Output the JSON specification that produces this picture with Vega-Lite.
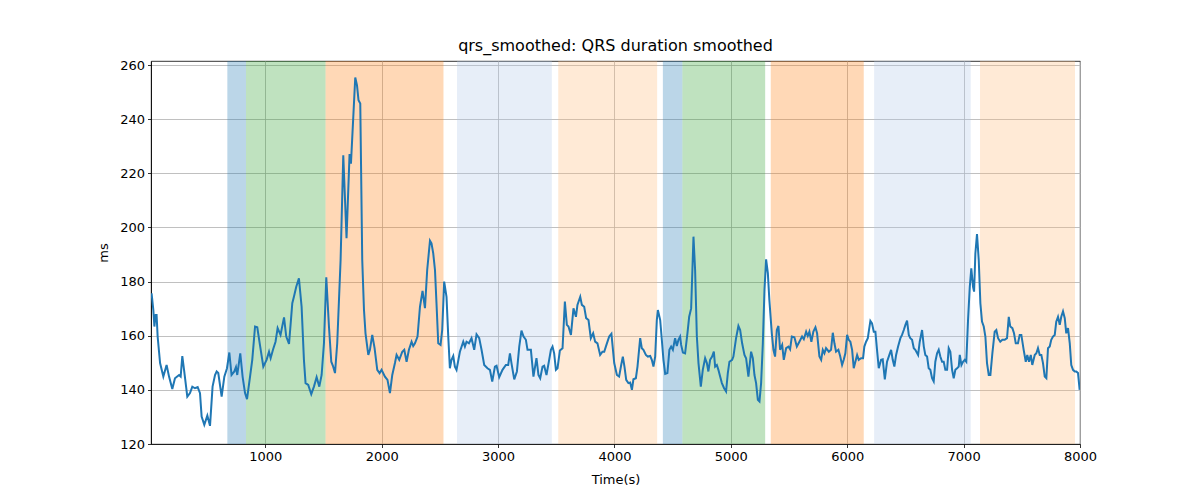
{
  "$schema": "https://vega.github.io/schema/vega-lite/v6.json",
  "width": 929,
  "height": 383,
  "autosize": {"type": "none"},
  "padding": {"left": 151, "top": 61, "right": 120, "bottom": 56},
  "title": {"text": "qrs_smoothed: QRS duration smoothed", "offset": 5},
  "datasets": {
    "bands": [
      {"start": 674, "end": 834, "kind": "blue"},
      {"start": 834, "end": 1518, "kind": "green"},
      {"start": 1518, "end": 2531, "kind": "orange"},
      {"start": 2647, "end": 3462, "kind": "lightblue"},
      {"start": 3517, "end": 4367, "kind": "lightorange"},
      {"start": 4416, "end": 4584, "kind": "blue"},
      {"start": 4584, "end": 5295, "kind": "green"},
      {"start": 5343, "end": 6142, "kind": "orange"},
      {"start": 6231, "end": 7061, "kind": "lightblue"},
      {"start": 7141, "end": 7957, "kind": "lightorange"}
    ],
    "series": [
      {"t": 23, "v": 175.7}, {"t": 38, "v": 169.5}, {"t": 47, "v": 163.4}, {"t": 58, "v": 167.7}, {"t": 66, "v": 167.7},
      {"t": 75, "v": 159.7}, {"t": 96, "v": 149.9}, {"t": 124, "v": 144.9}, {"t": 152, "v": 149.2}, {"t": 173, "v": 144.9},
      {"t": 201, "v": 140.3}, {"t": 224, "v": 144.3}, {"t": 259, "v": 145.5}, {"t": 273, "v": 144.9}, {"t": 287, "v": 152.5},
      {"t": 302, "v": 147.4}, {"t": 330, "v": 137.5}, {"t": 353, "v": 138.8}, {"t": 373, "v": 141.2}, {"t": 396, "v": 140.6},
      {"t": 419, "v": 141.0}, {"t": 439, "v": 138.8}, {"t": 453, "v": 130.1}, {"t": 476, "v": 127.1}, {"t": 502, "v": 130.5},
      {"t": 525, "v": 126.7}, {"t": 547, "v": 141.2}, {"t": 568, "v": 145.5}, {"t": 582, "v": 146.8}, {"t": 596, "v": 146.2},
      {"t": 625, "v": 137.5}, {"t": 648, "v": 144.9}, {"t": 671, "v": 148.0}, {"t": 691, "v": 153.8}, {"t": 710, "v": 145.5},
      {"t": 734, "v": 146.8}, {"t": 748, "v": 148.4}, {"t": 759, "v": 145.5}, {"t": 785, "v": 153.5}, {"t": 805, "v": 144.9},
      {"t": 826, "v": 138.8}, {"t": 843, "v": 136.6}, {"t": 869, "v": 144.9}, {"t": 888, "v": 151.1}, {"t": 912, "v": 163.4},
      {"t": 931, "v": 163.1}, {"t": 954, "v": 156.6}, {"t": 983, "v": 148.6}, {"t": 1011, "v": 151.1}, {"t": 1032, "v": 154.1},
      {"t": 1046, "v": 151.7}, {"t": 1066, "v": 154.8}, {"t": 1088, "v": 157.8}, {"t": 1106, "v": 162.8}, {"t": 1131, "v": 160.3},
      {"t": 1161, "v": 166.8}, {"t": 1180, "v": 159.7}, {"t": 1204, "v": 157.0}, {"t": 1232, "v": 172.0}, {"t": 1246, "v": 174.4},
      {"t": 1266, "v": 178.1}, {"t": 1289, "v": 181.2}, {"t": 1312, "v": 170.7}, {"t": 1332, "v": 151.1}, {"t": 1346, "v": 142.5},
      {"t": 1369, "v": 141.8}, {"t": 1395, "v": 138.4}, {"t": 1418, "v": 141.2}, {"t": 1441, "v": 144.7}, {"t": 1464, "v": 141.2},
      {"t": 1484, "v": 145.5}, {"t": 1504, "v": 157.2}, {"t": 1524, "v": 181.6}, {"t": 1547, "v": 163.4}, {"t": 1567, "v": 150.4},
      {"t": 1581, "v": 148.9}, {"t": 1599, "v": 146.2}, {"t": 1618, "v": 157.2}, {"t": 1647, "v": 188.0}, {"t": 1670, "v": 226.7},
      {"t": 1698, "v": 196.0}, {"t": 1724, "v": 227.1}, {"t": 1736, "v": 223.6}, {"t": 1773, "v": 255.4}, {"t": 1788, "v": 252.5},
      {"t": 1801, "v": 247.0}, {"t": 1816, "v": 245.8}, {"t": 1833, "v": 188.0}, {"t": 1848, "v": 169.5}, {"t": 1861, "v": 160.9},
      {"t": 1885, "v": 152.9}, {"t": 1899, "v": 154.8}, {"t": 1919, "v": 160.3}, {"t": 1939, "v": 155.4}, {"t": 1962, "v": 147.4},
      {"t": 1982, "v": 146.2}, {"t": 1999, "v": 147.4}, {"t": 2028, "v": 144.9}, {"t": 2050, "v": 143.7}, {"t": 2071, "v": 138.8},
      {"t": 2091, "v": 145.5}, {"t": 2114, "v": 149.9}, {"t": 2128, "v": 152.9}, {"t": 2151, "v": 151.1}, {"t": 2177, "v": 154.1},
      {"t": 2194, "v": 154.8}, {"t": 2214, "v": 150.4}, {"t": 2234, "v": 154.8}, {"t": 2257, "v": 157.8}, {"t": 2271, "v": 156.2},
      {"t": 2286, "v": 157.2}, {"t": 2308, "v": 159.7}, {"t": 2329, "v": 170.7}, {"t": 2351, "v": 176.6}, {"t": 2372, "v": 170.2},
      {"t": 2391, "v": 184.3}, {"t": 2415, "v": 195.1}, {"t": 2428, "v": 194.1}, {"t": 2443, "v": 190.4}, {"t": 2458, "v": 184.3},
      {"t": 2471, "v": 172.0}, {"t": 2486, "v": 157.2}, {"t": 2506, "v": 156.6}, {"t": 2520, "v": 162.1}, {"t": 2537, "v": 180.0},
      {"t": 2557, "v": 174.4}, {"t": 2572, "v": 159.7}, {"t": 2586, "v": 148.0}, {"t": 2600, "v": 151.1}, {"t": 2615, "v": 152.5},
      {"t": 2629, "v": 148.6}, {"t": 2643, "v": 147.4}, {"t": 2672, "v": 154.1}, {"t": 2701, "v": 157.8}, {"t": 2715, "v": 156.0},
      {"t": 2729, "v": 157.8}, {"t": 2750, "v": 157.2}, {"t": 2772, "v": 159.1}, {"t": 2795, "v": 154.8}, {"t": 2815, "v": 160.5},
      {"t": 2838, "v": 159.1}, {"t": 2858, "v": 154.8}, {"t": 2881, "v": 149.2}, {"t": 2909, "v": 148.0}, {"t": 2930, "v": 147.4},
      {"t": 2950, "v": 143.1}, {"t": 2973, "v": 148.6}, {"t": 2987, "v": 148.9}, {"t": 3010, "v": 144.7}, {"t": 3038, "v": 147.4},
      {"t": 3067, "v": 149.2}, {"t": 3087, "v": 149.2}, {"t": 3102, "v": 153.5}, {"t": 3115, "v": 149.9}, {"t": 3139, "v": 143.9},
      {"t": 3162, "v": 146.8}, {"t": 3182, "v": 156.0}, {"t": 3201, "v": 161.9}, {"t": 3219, "v": 159.7}, {"t": 3239, "v": 158.5},
      {"t": 3253, "v": 154.8}, {"t": 3282, "v": 154.8}, {"t": 3304, "v": 144.9}, {"t": 3330, "v": 151.7}, {"t": 3347, "v": 145.5},
      {"t": 3362, "v": 144.3}, {"t": 3382, "v": 148.6}, {"t": 3396, "v": 148.9}, {"t": 3416, "v": 145.5}, {"t": 3439, "v": 151.1},
      {"t": 3454, "v": 154.8}, {"t": 3468, "v": 156.0}, {"t": 3482, "v": 153.5}, {"t": 3497, "v": 147.4}, {"t": 3511, "v": 148.0},
      {"t": 3531, "v": 154.5}, {"t": 3554, "v": 155.4}, {"t": 3574, "v": 172.6}, {"t": 3591, "v": 164.0}, {"t": 3605, "v": 163.4},
      {"t": 3626, "v": 160.3}, {"t": 3648, "v": 170.1}, {"t": 3669, "v": 167.0}, {"t": 3682, "v": 171.4}, {"t": 3706, "v": 174.4},
      {"t": 3720, "v": 171.4}, {"t": 3740, "v": 170.7}, {"t": 3757, "v": 166.5}, {"t": 3777, "v": 165.8}, {"t": 3797, "v": 159.1},
      {"t": 3817, "v": 160.9}, {"t": 3834, "v": 157.8}, {"t": 3854, "v": 157.2}, {"t": 3877, "v": 152.9}, {"t": 3897, "v": 154.1},
      {"t": 3912, "v": 154.1}, {"t": 3931, "v": 156.6}, {"t": 3955, "v": 159.7}, {"t": 3974, "v": 160.7}, {"t": 3998, "v": 149.9},
      {"t": 4021, "v": 145.5}, {"t": 4040, "v": 144.9}, {"t": 4058, "v": 149.2}, {"t": 4072, "v": 152.3}, {"t": 4086, "v": 148.6},
      {"t": 4101, "v": 143.7}, {"t": 4120, "v": 142.5}, {"t": 4135, "v": 142.7}, {"t": 4150, "v": 140.0}, {"t": 4163, "v": 143.9},
      {"t": 4184, "v": 144.3}, {"t": 4198, "v": 148.6}, {"t": 4221, "v": 159.1}, {"t": 4235, "v": 155.4}, {"t": 4249, "v": 154.8},
      {"t": 4270, "v": 152.9}, {"t": 4287, "v": 152.3}, {"t": 4307, "v": 152.5}, {"t": 4321, "v": 151.1}, {"t": 4335, "v": 148.6},
      {"t": 4350, "v": 152.3}, {"t": 4364, "v": 165.8}, {"t": 4373, "v": 169.5}, {"t": 4393, "v": 165.8}, {"t": 4407, "v": 158.5},
      {"t": 4421, "v": 151.1}, {"t": 4436, "v": 145.9}, {"t": 4455, "v": 146.2}, {"t": 4472, "v": 154.8}, {"t": 4487, "v": 156.0},
      {"t": 4502, "v": 154.8}, {"t": 4521, "v": 159.1}, {"t": 4536, "v": 156.2}, {"t": 4550, "v": 158.5}, {"t": 4564, "v": 159.7},
      {"t": 4573, "v": 156.6}, {"t": 4588, "v": 153.8}, {"t": 4607, "v": 153.5}, {"t": 4627, "v": 160.9}, {"t": 4642, "v": 167.0},
      {"t": 4659, "v": 170.1}, {"t": 4679, "v": 196.6}, {"t": 4693, "v": 184.3}, {"t": 4708, "v": 159.7}, {"t": 4722, "v": 149.9},
      {"t": 4742, "v": 141.2}, {"t": 4759, "v": 147.4}, {"t": 4779, "v": 151.7}, {"t": 4794, "v": 149.9}, {"t": 4807, "v": 146.8},
      {"t": 4822, "v": 151.1}, {"t": 4839, "v": 152.3}, {"t": 4854, "v": 154.1}, {"t": 4865, "v": 148.6}, {"t": 4880, "v": 149.2},
      {"t": 4893, "v": 147.4}, {"t": 4908, "v": 144.9}, {"t": 4923, "v": 142.5}, {"t": 4942, "v": 140.6}, {"t": 4959, "v": 139.4},
      {"t": 4974, "v": 146.2}, {"t": 4988, "v": 150.4}, {"t": 5011, "v": 151.1}, {"t": 5022, "v": 152.3}, {"t": 5045, "v": 159.1},
      {"t": 5065, "v": 163.6}, {"t": 5080, "v": 162.1}, {"t": 5097, "v": 157.2}, {"t": 5117, "v": 152.9}, {"t": 5131, "v": 151.7},
      {"t": 5151, "v": 144.9}, {"t": 5174, "v": 154.1}, {"t": 5189, "v": 151.7}, {"t": 5203, "v": 145.5}, {"t": 5217, "v": 142.5},
      {"t": 5232, "v": 136.3}, {"t": 5246, "v": 135.7}, {"t": 5260, "v": 142.5}, {"t": 5275, "v": 157.2}, {"t": 5289, "v": 176.9},
      {"t": 5303, "v": 188.2}, {"t": 5318, "v": 183.1}, {"t": 5331, "v": 173.2}, {"t": 5352, "v": 160.9}, {"t": 5366, "v": 154.8},
      {"t": 5380, "v": 152.3}, {"t": 5395, "v": 162.1}, {"t": 5409, "v": 163.6}, {"t": 5423, "v": 154.8}, {"t": 5441, "v": 156.6},
      {"t": 5455, "v": 151.1}, {"t": 5475, "v": 155.4}, {"t": 5495, "v": 156.0}, {"t": 5509, "v": 155.0}, {"t": 5524, "v": 159.7},
      {"t": 5546, "v": 159.4}, {"t": 5567, "v": 156.0}, {"t": 5589, "v": 157.8}, {"t": 5612, "v": 159.7}, {"t": 5627, "v": 158.7},
      {"t": 5647, "v": 161.5}, {"t": 5661, "v": 159.9}, {"t": 5675, "v": 161.5}, {"t": 5692, "v": 157.8}, {"t": 5709, "v": 161.5},
      {"t": 5727, "v": 163.1}, {"t": 5741, "v": 160.9}, {"t": 5761, "v": 152.3}, {"t": 5776, "v": 151.1}, {"t": 5790, "v": 154.8},
      {"t": 5804, "v": 153.5}, {"t": 5818, "v": 155.4}, {"t": 5842, "v": 154.1}, {"t": 5861, "v": 154.8}, {"t": 5876, "v": 161.1},
      {"t": 5890, "v": 157.2}, {"t": 5904, "v": 154.1}, {"t": 5924, "v": 154.8}, {"t": 5939, "v": 152.5}, {"t": 5956, "v": 149.2},
      {"t": 5970, "v": 151.1}, {"t": 5984, "v": 153.5}, {"t": 5999, "v": 160.3}, {"t": 6013, "v": 158.5}, {"t": 6027, "v": 157.8},
      {"t": 6042, "v": 154.8}, {"t": 6056, "v": 148.0}, {"t": 6070, "v": 150.4}, {"t": 6085, "v": 152.9}, {"t": 6099, "v": 151.1},
      {"t": 6119, "v": 151.7}, {"t": 6136, "v": 151.7}, {"t": 6147, "v": 156.0}, {"t": 6162, "v": 157.8}, {"t": 6177, "v": 159.1},
      {"t": 6185, "v": 161.5}, {"t": 6199, "v": 165.5}, {"t": 6213, "v": 164.6}, {"t": 6228, "v": 161.5}, {"t": 6242, "v": 161.5},
      {"t": 6256, "v": 154.8}, {"t": 6271, "v": 148.0}, {"t": 6291, "v": 151.1}, {"t": 6305, "v": 151.3}, {"t": 6323, "v": 143.9},
      {"t": 6342, "v": 150.4}, {"t": 6362, "v": 152.9}, {"t": 6377, "v": 154.8}, {"t": 6391, "v": 151.1}, {"t": 6405, "v": 148.6},
      {"t": 6420, "v": 152.9}, {"t": 6437, "v": 156.0}, {"t": 6457, "v": 159.1}, {"t": 6471, "v": 160.3}, {"t": 6486, "v": 162.1},
      {"t": 6500, "v": 164.0}, {"t": 6514, "v": 165.6}, {"t": 6529, "v": 160.3}, {"t": 6542, "v": 159.1}, {"t": 6557, "v": 158.5},
      {"t": 6572, "v": 155.4}, {"t": 6585, "v": 154.8}, {"t": 6609, "v": 152.9}, {"t": 6623, "v": 157.8}, {"t": 6643, "v": 162.1},
      {"t": 6658, "v": 156.0}, {"t": 6671, "v": 152.9}, {"t": 6686, "v": 152.3}, {"t": 6700, "v": 148.0}, {"t": 6714, "v": 147.4},
      {"t": 6729, "v": 144.3}, {"t": 6743, "v": 143.1}, {"t": 6757, "v": 150.4}, {"t": 6772, "v": 153.5}, {"t": 6786, "v": 154.8},
      {"t": 6800, "v": 152.3}, {"t": 6815, "v": 150.4}, {"t": 6829, "v": 150.4}, {"t": 6843, "v": 147.4}, {"t": 6858, "v": 147.4},
      {"t": 6872, "v": 155.4}, {"t": 6886, "v": 154.1}, {"t": 6901, "v": 147.4}, {"t": 6915, "v": 144.3}, {"t": 6929, "v": 147.4},
      {"t": 6944, "v": 148.0}, {"t": 6958, "v": 148.6}, {"t": 6967, "v": 152.9}, {"t": 6981, "v": 149.2}, {"t": 6995, "v": 150.4},
      {"t": 7010, "v": 151.1}, {"t": 7023, "v": 150.4}, {"t": 7038, "v": 165.8}, {"t": 7053, "v": 178.1}, {"t": 7066, "v": 184.9},
      {"t": 7081, "v": 178.1}, {"t": 7090, "v": 176.3}, {"t": 7101, "v": 190.4}, {"t": 7115, "v": 197.6}, {"t": 7130, "v": 188.0},
      {"t": 7144, "v": 172.0}, {"t": 7158, "v": 165.2}, {"t": 7173, "v": 163.4}, {"t": 7187, "v": 159.7}, {"t": 7201, "v": 149.9},
      {"t": 7216, "v": 145.5}, {"t": 7230, "v": 145.5}, {"t": 7247, "v": 153.5}, {"t": 7267, "v": 161.5}, {"t": 7281, "v": 162.1},
      {"t": 7296, "v": 159.1}, {"t": 7315, "v": 157.8}, {"t": 7333, "v": 158.5}, {"t": 7353, "v": 158.5}, {"t": 7373, "v": 159.1},
      {"t": 7388, "v": 167.0}, {"t": 7401, "v": 163.4}, {"t": 7419, "v": 162.8}, {"t": 7433, "v": 160.9}, {"t": 7448, "v": 157.2},
      {"t": 7467, "v": 157.2}, {"t": 7482, "v": 160.3}, {"t": 7496, "v": 160.3}, {"t": 7516, "v": 154.8}, {"t": 7534, "v": 150.4},
      {"t": 7547, "v": 152.9}, {"t": 7562, "v": 150.4}, {"t": 7577, "v": 152.9}, {"t": 7590, "v": 149.2}, {"t": 7611, "v": 152.9},
      {"t": 7625, "v": 153.5}, {"t": 7639, "v": 155.4}, {"t": 7654, "v": 152.9}, {"t": 7668, "v": 152.9}, {"t": 7682, "v": 149.9},
      {"t": 7697, "v": 144.9}, {"t": 7711, "v": 144.3}, {"t": 7725, "v": 155.4}, {"t": 7740, "v": 156.0}, {"t": 7753, "v": 158.5},
      {"t": 7768, "v": 159.7}, {"t": 7783, "v": 160.3}, {"t": 7796, "v": 165.2}, {"t": 7811, "v": 167.0}, {"t": 7826, "v": 164.0},
      {"t": 7839, "v": 167.0}, {"t": 7854, "v": 169.0}, {"t": 7869, "v": 166.5}, {"t": 7882, "v": 160.9}, {"t": 7897, "v": 162.8},
      {"t": 7912, "v": 157.2}, {"t": 7925, "v": 149.2}, {"t": 7940, "v": 147.4}, {"t": 7955, "v": 146.8}, {"t": 7968, "v": 146.8},
      {"t": 7983, "v": 146.2}, {"t": 7997, "v": 140.0}
    ]
  },
  "layer": [
    {
      "data": {"name": "bands"},
      "mark": {"type": "rect", "opacity": 0.3},
      "encoding": {
        "x": {"field": "start", "type": "quantitative", "scale": {"domain": [18, 8000], "nice": false, "zero": false},
              "axis": {"title": "Time(s)", "values": [1000, 2000, 3000, 4000, 5000, 6000, 7000, 8000], "format": "d", "labelFlush": false, "titlePadding": 10}},
        "x2": {"field": "end"},
        "color": {"field": "kind", "type": "nominal", "legend": null,
                  "scale": {"domain": ["blue", "green", "orange", "lightblue", "lightorange"],
                            "range": ["#1f77b4", "#2ca02c", "#ff7f0e", "#aec7e8", "#ffbb78"]}}
      }
    },
    {
      "data": {"name": "series"},
      "mark": {"type": "line", "color": "#1f77b4", "strokeWidth": 2, "clip": true},
      "encoding": {
        "x": {"field": "t", "type": "quantitative", "scale": {"domain": [18, 8000], "nice": false, "zero": false},
              "axis": {"title": "Time(s)", "values": [1000, 2000, 3000, 4000, 5000, 6000, 7000, 8000], "format": "d", "labelFlush": false, "titlePadding": 10}},
        "y": {"field": "v", "type": "quantitative", "scale": {"domain": [120, 261.5], "nice": false, "zero": false},
              "axis": {"title": "ms", "values": [120, 140, 160, 180, 200, 220, 240, 260], "format": "d", "labelFlush": false, "titlePadding": 9}}
      }
    }
  ],
  "config": {
    "font": "DejaVu Sans",
    "view": {"stroke": "black", "strokeWidth": 0.8},
    "axis": {
      "gridColor": "#b0b0b0", "gridWidth": 0.8, "gridOpacity": 1,
      "domainColor": "black", "domainWidth": 0.8,
      "tickColor": "black", "tickSize": 3.5, "tickWidth": 0.8,
      "labelFontSize": 13, "labelColor": "black", "labelPadding": 3,
      "titleFontSize": 13, "titleFontWeight": "normal", "titleColor": "black"
    },
    "title": {"fontSize": 16, "fontWeight": "normal", "color": "black"}
  }
}
